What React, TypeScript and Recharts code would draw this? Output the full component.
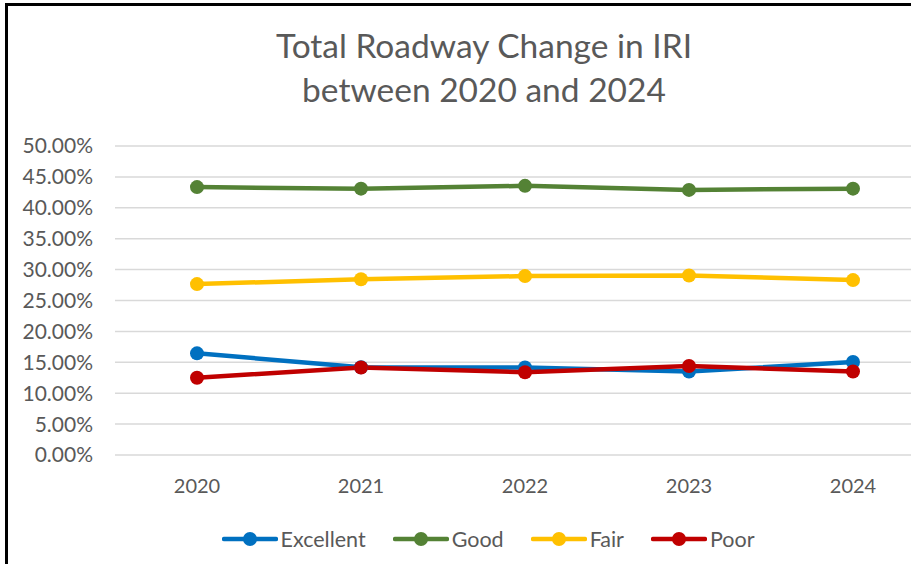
import React from 'react';
import { LineChart, Line, XAxis, YAxis, CartesianGrid, Legend } from 'recharts';

const years = ['2020', '2021', '2022', '2023', '2024'];
const excellent = [16.45, 14.2, 14.15, 13.5, 15.05];
const good = [43.35, 43.1, 43.55, 42.9, 43.1];
const fair = [27.65, 28.45, 28.95, 29.05, 28.3];
const poor = [12.5, 14.15, 13.4, 14.4, 13.5];
const yTicks = [0, 5, 10, 15, 20, 25, 30, 35, 40, 45, 50];

const seriesNames = ['Excellent', 'Good', 'Fair', 'Poor'];
const seriesColors = ['#0070C0', '#548235', '#FFC000', '#C00000'];
const seriesValues = [excellent, good, fair, poor];

const data = years.map((y, i) => {
  const row: Record<string, string | number> = { year: y };
  seriesNames.forEach((n, k) => {
    row[n] = seriesValues[k][i];
  });
  return row;
});

const FONT = 'Lato, "Open Sans", sans-serif';
const TEXT = '#595959';

const LegendContent = (props: any) => {
  const payload = [...(props.payload || [])].sort(
    (a: any, b: any) => seriesNames.indexOf(a.value) - seriesNames.indexOf(b.value)
  );
  return (
    <div
      style={{
        display: 'flex',
        justifyContent: 'center',
        alignItems: 'center',
        height: 30,
        fontFamily: FONT,
        fontSize: 21.5,
        color: TEXT,
      }}
    >
      {payload.map((p: any, i: number) => (
        <div
          key={p.value}
          style={{ display: 'flex', alignItems: 'center', marginLeft: i === 0 ? 0 : 27 }}
        >
          <svg width={56} height={20} style={{ display: 'block' }}>
            <line x1={2} y1={10} x2={54} y2={10} stroke={p.color} strokeWidth={4.5} strokeLinecap="round" />
            <circle cx={28} cy={10} r={7} fill={p.color} />
          </svg>
          <span style={{ marginLeft: 3 }}>{p.value}</span>
        </div>
      ))}
    </div>
  );
};

export default function App() {
  return (
    <div
      style={{
        position: 'absolute',
        left: 0,
        top: 0,
        width: 911,
        height: 564,
        overflow: 'hidden',
        background: '#fff',
      }}
    >
      <div
        style={{
          position: 'absolute',
          left: 5,
          top: 3,
          width: 1000,
          height: 700,
          border: '3px solid #000',
          boxSizing: 'border-box',
        }}
      />
      <div
        style={{
          position: 'absolute',
          left: 0,
          top: 23,
          width: 968,
          textAlign: 'center',
          fontFamily: FONT,
          fontSize: 33.5,
          lineHeight: '44px',
          color: TEXT,
        }}
      >
        <div>Total Roadway Change in IRI</div>
        <div>between 2020 and 2024</div>
      </div>
      <div style={{ position: 'absolute', left: 0, top: 0 }}>
        <LineChart
          width={970}
          height={554}
          data={data}
          margin={{ top: 146, right: 35, bottom: 0, left: 0 }}
        >
          <CartesianGrid vertical={false} stroke="#D9D9D9" strokeWidth={1.5} />
          <XAxis
            dataKey="year"
            axisLine={false}
            tickLine={false}
            tickSize={0}
            tickMargin={24}
            height={69}
            padding={{ left: 82, right: 82 }}
            tick={{ fill: TEXT, fontSize: 20, fontFamily: FONT }}
            interval={0}
          />
          <YAxis
            domain={[0, 50]}
            ticks={yTicks}
            width={115}
            axisLine={false}
            tickLine={false}
            tickSize={0}
            tickMargin={22}
            tick={{ fill: TEXT, fontSize: 21, fontFamily: FONT }}
            tickFormatter={(v: number) => v.toFixed(2) + '%'}
            interval={0}
          />
          {seriesNames.map((n, k) => (
            <Line
              key={n}
              dataKey={n}
              name={n}
              stroke={seriesColors[k]}
              strokeWidth={4.5}
              dot={{ r: 7, fill: seriesColors[k], stroke: seriesColors[k], strokeWidth: 0 }}
              isAnimationActive={false}
              type="linear"
            />
          ))}
          <Legend
            verticalAlign="bottom"
            content={<LegendContent />}
            wrapperStyle={{ left: 3, width: 970 }}
          />
        </LineChart>
      </div>
    </div>
  );
}
